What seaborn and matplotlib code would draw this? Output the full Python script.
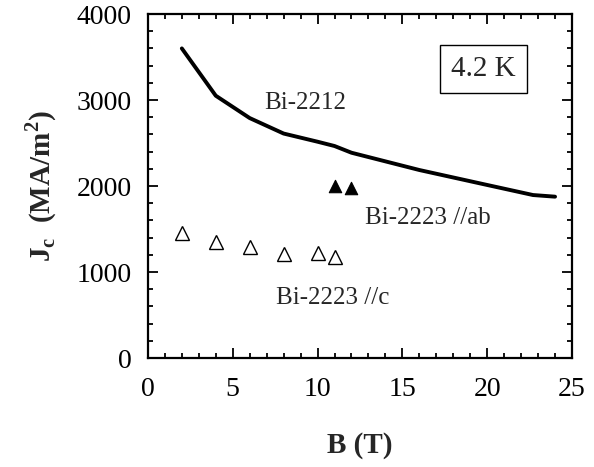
import matplotlib
matplotlib.use("Agg")
import matplotlib.pyplot as plt
import seaborn as sns
import pandas as pd
from matplotlib.ticker import MultipleLocator

# Data
b2212_B = [2, 4, 6, 8, 10, 11, 12, 16, 20, 22.7, 24]
b2212_J = [3600, 3050, 2790, 2610, 2515, 2465, 2387, 2186, 2012, 1895, 1876]
ab_B = [11, 12]
ab_J = [1995, 1975]
c_B = [2, 4, 6, 8, 10, 11]
c_J = [1457, 1352, 1294, 1209, 1217, 1171]

xticks = [0, 5, 10, 15, 20, 25]
yticks = [0, 1000, 2000, 3000, 4000]

sns.set_theme(style="ticks")
plt.rcParams['font.family'] = ['Liberation Serif', 'DejaVu Serif']
plt.rcParams['mathtext.fontset'] = 'custom'
plt.rcParams['mathtext.rm'] = 'Liberation Serif'
plt.rcParams['mathtext.bf'] = 'Liberation Serif:bold'

fig = plt.figure(figsize=(5.94, 4.67), dpi=100)
ax = fig.add_axes([0.249, 0.2334, 0.714, 0.7366])

df_line = pd.DataFrame({"B": b2212_B, "J": b2212_J})
df_ab = pd.DataFrame({"B": ab_B, "J": ab_J})
df_c = pd.DataFrame({"B": c_B, "J": c_J})

sns.lineplot(data=df_line, x="B", y="J", ax=ax, color="black", linewidth=2.8, sort=True)
sns.scatterplot(data=df_ab, x="B", y="J", ax=ax, marker="^", s=80, color="black",
                edgecolor="black", linewidth=0.8)
ax.plot(df_c["B"], df_c["J"], linestyle="none", marker="^", markersize=9.5,
        markerfacecolor="white", markeredgecolor="black", markeredgewidth=1.0)

ax.set_xlim(0, 25)
ax.set_ylim(0, 4000)
ax.set_xticks(xticks)
ax.set_yticks(yticks)
ax.xaxis.set_minor_locator(MultipleLocator(1))
ax.yaxis.set_minor_locator(MultipleLocator(200))
ax.tick_params(which="both", direction="in", top=True, right=True, width=1.3, colors="black")
ax.tick_params(which="major", length=7, labelsize=20)
ax.tick_params(axis="x", which="major", pad=14)
ax.tick_params(axis="y", which="major", pad=11.5)
ax.tick_params(which="minor", length=3.5)
for s in ax.spines.values():
    s.set_linewidth(1.6)
    s.set_color("black")

ax.set_xlabel("B (T)", fontsize=21, fontweight="bold", labelpad=21)
ax.set_ylabel(r"$\mathbf{J}_{\mathbf{c}}$  (MA/m$^\mathbf{2}$)", fontsize=21, fontweight="bold", labelpad=13)

ax.text(9.3, 2960, "Bi-2212", fontsize=18, ha="center", va="center")
ax.text(16.5, 1624, "Bi-2223 //ab", fontsize=18, ha="center", va="center")
ax.text(10.9, 694, "Bi-2223 //c", fontsize=18, ha="center", va="center")
ax.text(19.8, 3360, "4.2 K", fontsize=21, ha="center", va="center",
        bbox=dict(boxstyle="square,pad=0.38", facecolor="white", edgecolor="black", linewidth=1.0))

fig.savefig("out.png", dpi=100)
